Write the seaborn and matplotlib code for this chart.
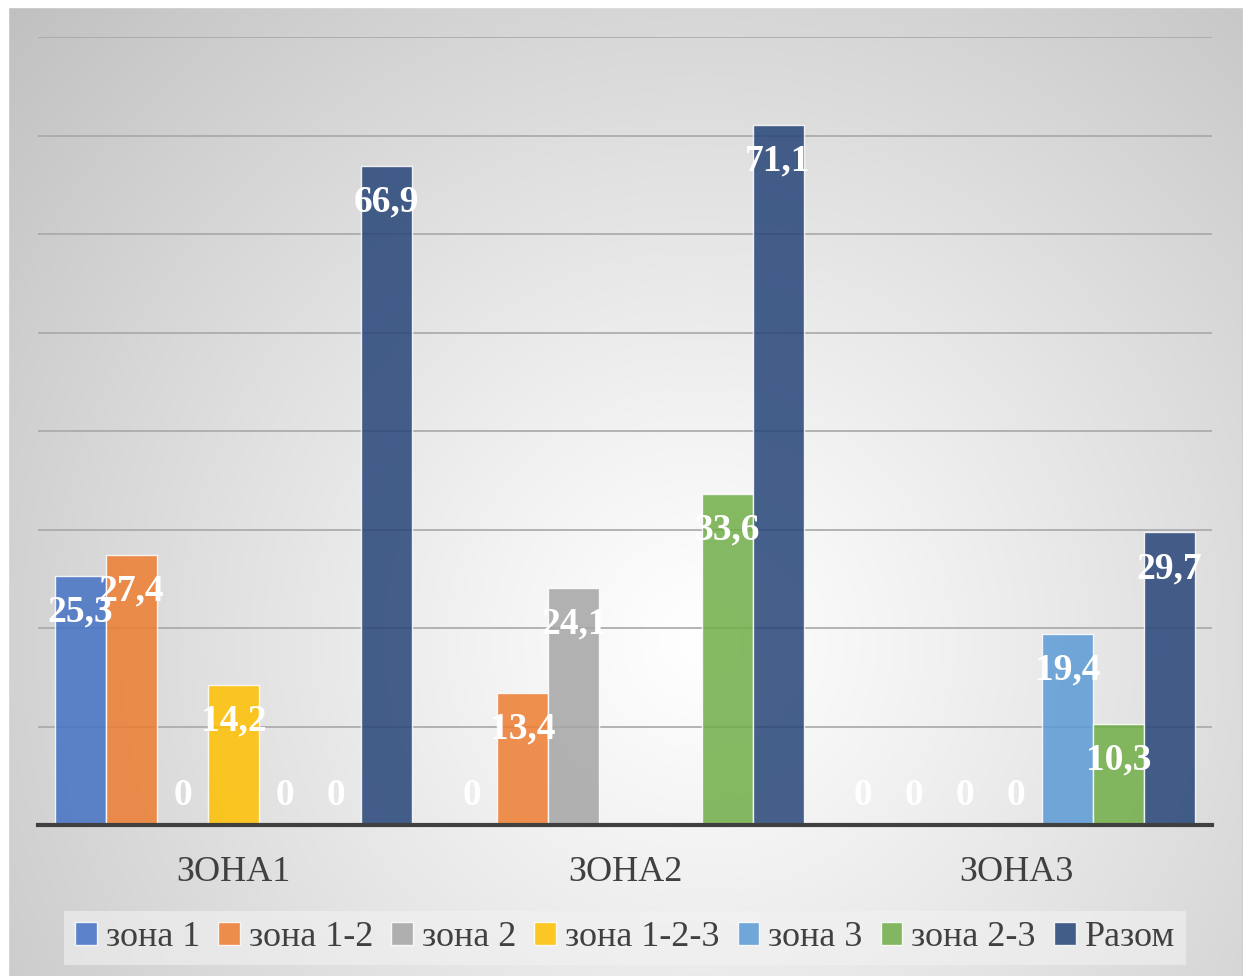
import matplotlib
matplotlib.use("Agg")
import matplotlib.pyplot as plt
from matplotlib.patches import Patch
import numpy as np
import pandas as pd
import seaborn as sns

# --- data -------------------------------------------------------------------
zones = ["ЗОНА1", "ЗОНА2", "ЗОНА3"]
series = ["зона 1", "зона 1-2", "зона 2", "зона 1-2-3", "зона 3", "зона 2-3", "Разом"]
zona_1 = [25.3, 0, 0]
zona_1_2 = [27.4, 13.4, 0]
zona_2 = [0, 24.1, 0]
zona_1_2_3 = [14.2, np.nan, 0]
zona_3 = [0, np.nan, 19.4]
zona_2_3 = [0, 33.6, 10.3]
razom = [66.9, 71.1, 29.7]
colors = ["#4472C4", "#ED7D31", "#A5A5A5", "#FFC000", "#5B9BD5", "#70AD47", "#264478"]

values = [zona_1, zona_1_2, zona_2, zona_1_2_3, zona_3, zona_2_3, razom]
df = pd.DataFrame(
    [(z, s, v[i]) for s, v in zip(series, values) for i, z in enumerate(zones)],
    columns=["zone", "series", "value"],
).dropna()

sns.set_theme(style="white")
plt.rcParams["font.family"] = ["Liberation Serif", "DejaVu Serif"]

fig = plt.figure(figsize=(12.48, 9.76), dpi=100)

# radial grey background like the office chart area
bg = fig.add_axes([0, 0, 1, 1], zorder=-5)
yy, xx = np.mgrid[0:976, 0:1248]
dist = np.hypot(xx - 700, yy - 640) / 950
shade = 1 - 0.25 * np.clip(dist, 0, 1) ** 1.1
img = np.dstack([shade] * 3)
bg.imshow(img, extent=(0, 1248, 976, 0), aspect="auto")
bg.add_patch(plt.Rectangle((8, 7), 1235, 975, fill=False, edgecolor="#c4c4c4", lw=1.5))
bg.add_patch(plt.Rectangle((0, 0), 8, 976, color="white"))
bg.add_patch(plt.Rectangle((1243, 0), 10, 976, color="white"))
bg.add_patch(plt.Rectangle((0, 0), 1248, 7, color="white"))
bg.set_xlim(0, 1248)
bg.set_ylim(976, 0)
bg.axis("off")

ax = fig.add_axes([38 / 1248, 151 / 976, 1174 / 1248, 788 / 976])
ax.patch.set_alpha(0)
sns.barplot(data=df, x="zone", y="value", hue="series", order=zones,
            hue_order=series, palette=colors, saturation=1, width=0.913,
            alpha=0.85, edgecolor="white", linewidth=1.0, legend=False, ax=ax)

ax.set_ylim(0, 80)
ax.set_xlim(-0.5, 2.5)
ax.set_yticks(range(0, 90, 10))
ax.yaxis.grid(True, color="#a8a8a8", lw=1.2)
ax.set_axisbelow(True)
ax.tick_params(axis="y", left=False, labelleft=False)
ax.tick_params(axis="x", bottom=False, labelsize=26, labelcolor="#404040", pad=16)
ax.set_xlabel("")
ax.set_ylabel("")
for side in ["left", "right", "top"]:
    ax.spines[side].set_visible(False)
ax.spines["bottom"].set_color("#404040")
ax.spines["bottom"].set_linewidth(3)

# white data labels inside the bar ends
for container in ax.containers:
    for bar in container:
        h = bar.get_height()
        cx = bar.get_x() + bar.get_width() / 2
        text = "0" if h == 0 else f"{h:.1f}".replace(".", ",")
        offset = 21 if h == 0 else -26
        ax.annotate(text, (cx, h), xytext=(0, offset), textcoords="offset points",
                    ha="center", va="center", color="white", fontsize=27,
                    fontweight="bold")

handles = [Patch(facecolor=c, edgecolor="white", alpha=0.85, label=s)
           for c, s in zip(colors, series)]
leg = fig.legend(handles=handles, loc="center", bbox_to_anchor=(625 / 1248, 38 / 976),
                 ncol=7, fontsize=26, frameon=True, fancybox=False,
                 handlelength=0.6, handleheight=0.6, handletextpad=0.25,
                 columnspacing=0.5, borderpad=0.3)
leg.get_frame().set_facecolor("#f2f2f2")
leg.get_frame().set_alpha(0.6)
leg.get_frame().set_edgecolor("none")
for t in leg.get_texts():
    t.set_color("#404040")

fig.savefig("out.png", dpi=100)
